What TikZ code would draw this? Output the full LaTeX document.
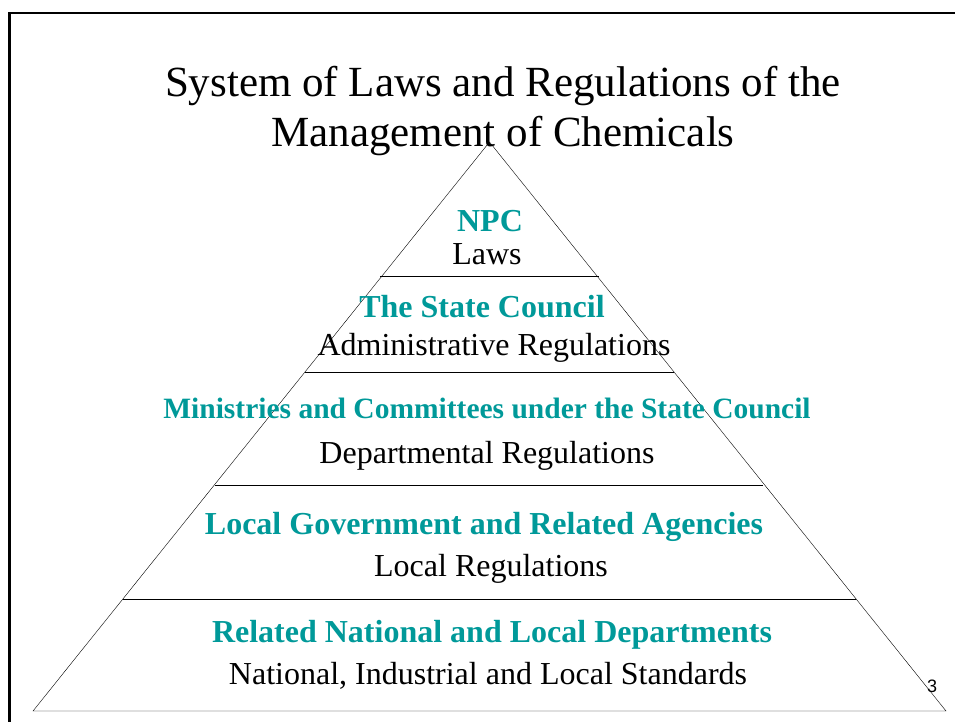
\documentclass[tikz,border=0pt]{standalone}
\usepackage{fontspec}
\setmainfont{Liberation Serif}
\newfontfamily\pagefont{Liberation Sans}
\usepackage{tikz}
\definecolor{levelteal}{RGB}{0,153,153}

\begin{document}
\begin{tikzpicture}[x=1pt, y=-1pt, title/.style = {font=\fontsize{43}{50}\selectfont, inner sep=0pt},
	body/.style = {font=\fontsize{32}{36}\selectfont, inner sep=0pt},
	head/.style = {body, font=\fontsize{32}{36}\selectfont\bfseries, text=levelteal},
	level/.style = {thin}]

	\useasboundingbox (0,0) rectangle (955,722);
	\draw[line width=2.5pt] (9.5,13) rectangle (965,735);

	% Pyramid
	\coordinate (apex) at (489.5,142);
	\coordinate (baseL) at (33,711);
	\coordinate (baseR) at (946,711);
	\draw[level] (apex) -- (baseL) -- (baseR) -- cycle;

	\coordinate (l1L) at (380,276); \coordinate (l1R) at (599,276);
	\coordinate (l2L) at (305,372); \coordinate (l2R) at (674,372);
	\coordinate (l3L) at (215,485); \coordinate (l3R) at (763,485);
	\coordinate (l4L) at (123,599); \coordinate (l4R) at (856,599);
	\draw[level] (l1L) -- (l1R);
	\draw[level] (l2L) -- (l2R);
	\draw[level] (l3L) -- (l3R);
	\draw[level] (l4L) -- (l4R);

	% Title
	\node (title1) [title] at (503,86) {System of Laws and Regulations of the};
	\node (title2) [title] at (503,136) {Management of Chemicals};

	% Levels
	\node (npc) [head] at (490,221) {NPC};
	\node (laws) [body] at (487,254) {Laws};
	\node (council) [head] at (482,307) {The State Council};
	\node (admin) [body] at (494,348) {Administrative Regulations};
	\node (ministries) [head, font=\fontsize{29.5}{34}\selectfont\bfseries] at (487,408) {Ministries and Committees under the State Council};
	\node (dept) [body] at (487,456) {Departmental Regulations};
	\node (localgov) [head] at (484,527) {Local Government and Related Agencies};
	\node (localreg) [body] at (491,569) {Local Regulations};
	\node (related) [head] at (492,635) {Related National and Local Departments};
	\node (standards) [body] at (488,676) {National, Industrial and Local Standards};

	\node (pagenum) [font=\pagefont\fontsize{18}{20}\selectfont, inner sep=0pt] at (932,686) {3};
\end{tikzpicture}
\end{document}
